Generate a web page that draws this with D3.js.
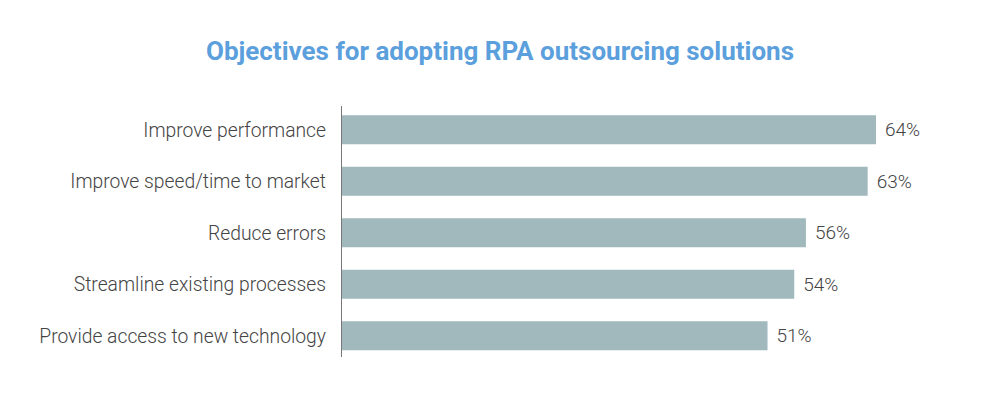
<!DOCTYPE html>
<html><head><meta charset="utf-8">
<script src="https://cdn.jsdelivr.net/npm/d3@7"></script>
<style>body{margin:0;background:#fff}svg{display:block}</style>
</head><body>
<svg id="c" width="1000" height="409"></svg>
<script>
const categories = ["Improve performance","Improve speed/time to market","Reduce errors","Streamline existing processes","Provide access to new technology"];
const values = [64,63,55.6,54.2,51];
const valueLabels = ["64%","63%","56%","54%","51%"];
const title = "Objectives for adopting RPA outsourcing solutions";

const svg = d3.select("#c");
const x = d3.scaleLinear().domain([0,64]).range([342,876]);
const y = d3.scaleBand().domain(categories).range([104,361.5]).paddingInner(0.437).paddingOuter(0.2185);

svg.append("text").attr("x",500).attr("y",60).attr("text-anchor","middle")
  .attr("font-family","Roboto").attr("font-weight","bold").attr("font-size",26)
  .attr("fill","#5B9FDD").text(title);

svg.selectAll("rect.bar").data(values).join("rect").attr("class","bar")
  .attr("x",x(0)).attr("y",(d,i)=>y(categories[i]))
  .attr("width",d=>x(d)-x(0)).attr("height",y.bandwidth()).attr("fill","#A1B8BD");

svg.selectAll("text.cat").data(categories).join("text").attr("class","cat")
  .attr("x",326).attr("y",d=>y(d)+y.bandwidth()/2).attr("dy","0.35em")
  .attr("text-anchor","end").attr("font-family","Roboto").attr("font-weight",300)
  .attr("font-size",19.3).attr("fill","#444").text(d=>d);

svg.selectAll("text.val").data(values).join("text").attr("class","val")
  .attr("x",d=>x(d)+9).attr("y",(d,i)=>y(categories[i])+y.bandwidth()/2).attr("dy","0.35em")
  .attr("font-family","Roboto").attr("font-weight",300)
  .attr("font-size",19).attr("fill","#444").text((d,i)=>valueLabels[i]);

svg.append("line").attr("x1",341.5).attr("x2",341.5).attr("y1",106).attr("y2",357)
  .attr("stroke","#777").attr("stroke-width",1);
</script>
</body></html>
